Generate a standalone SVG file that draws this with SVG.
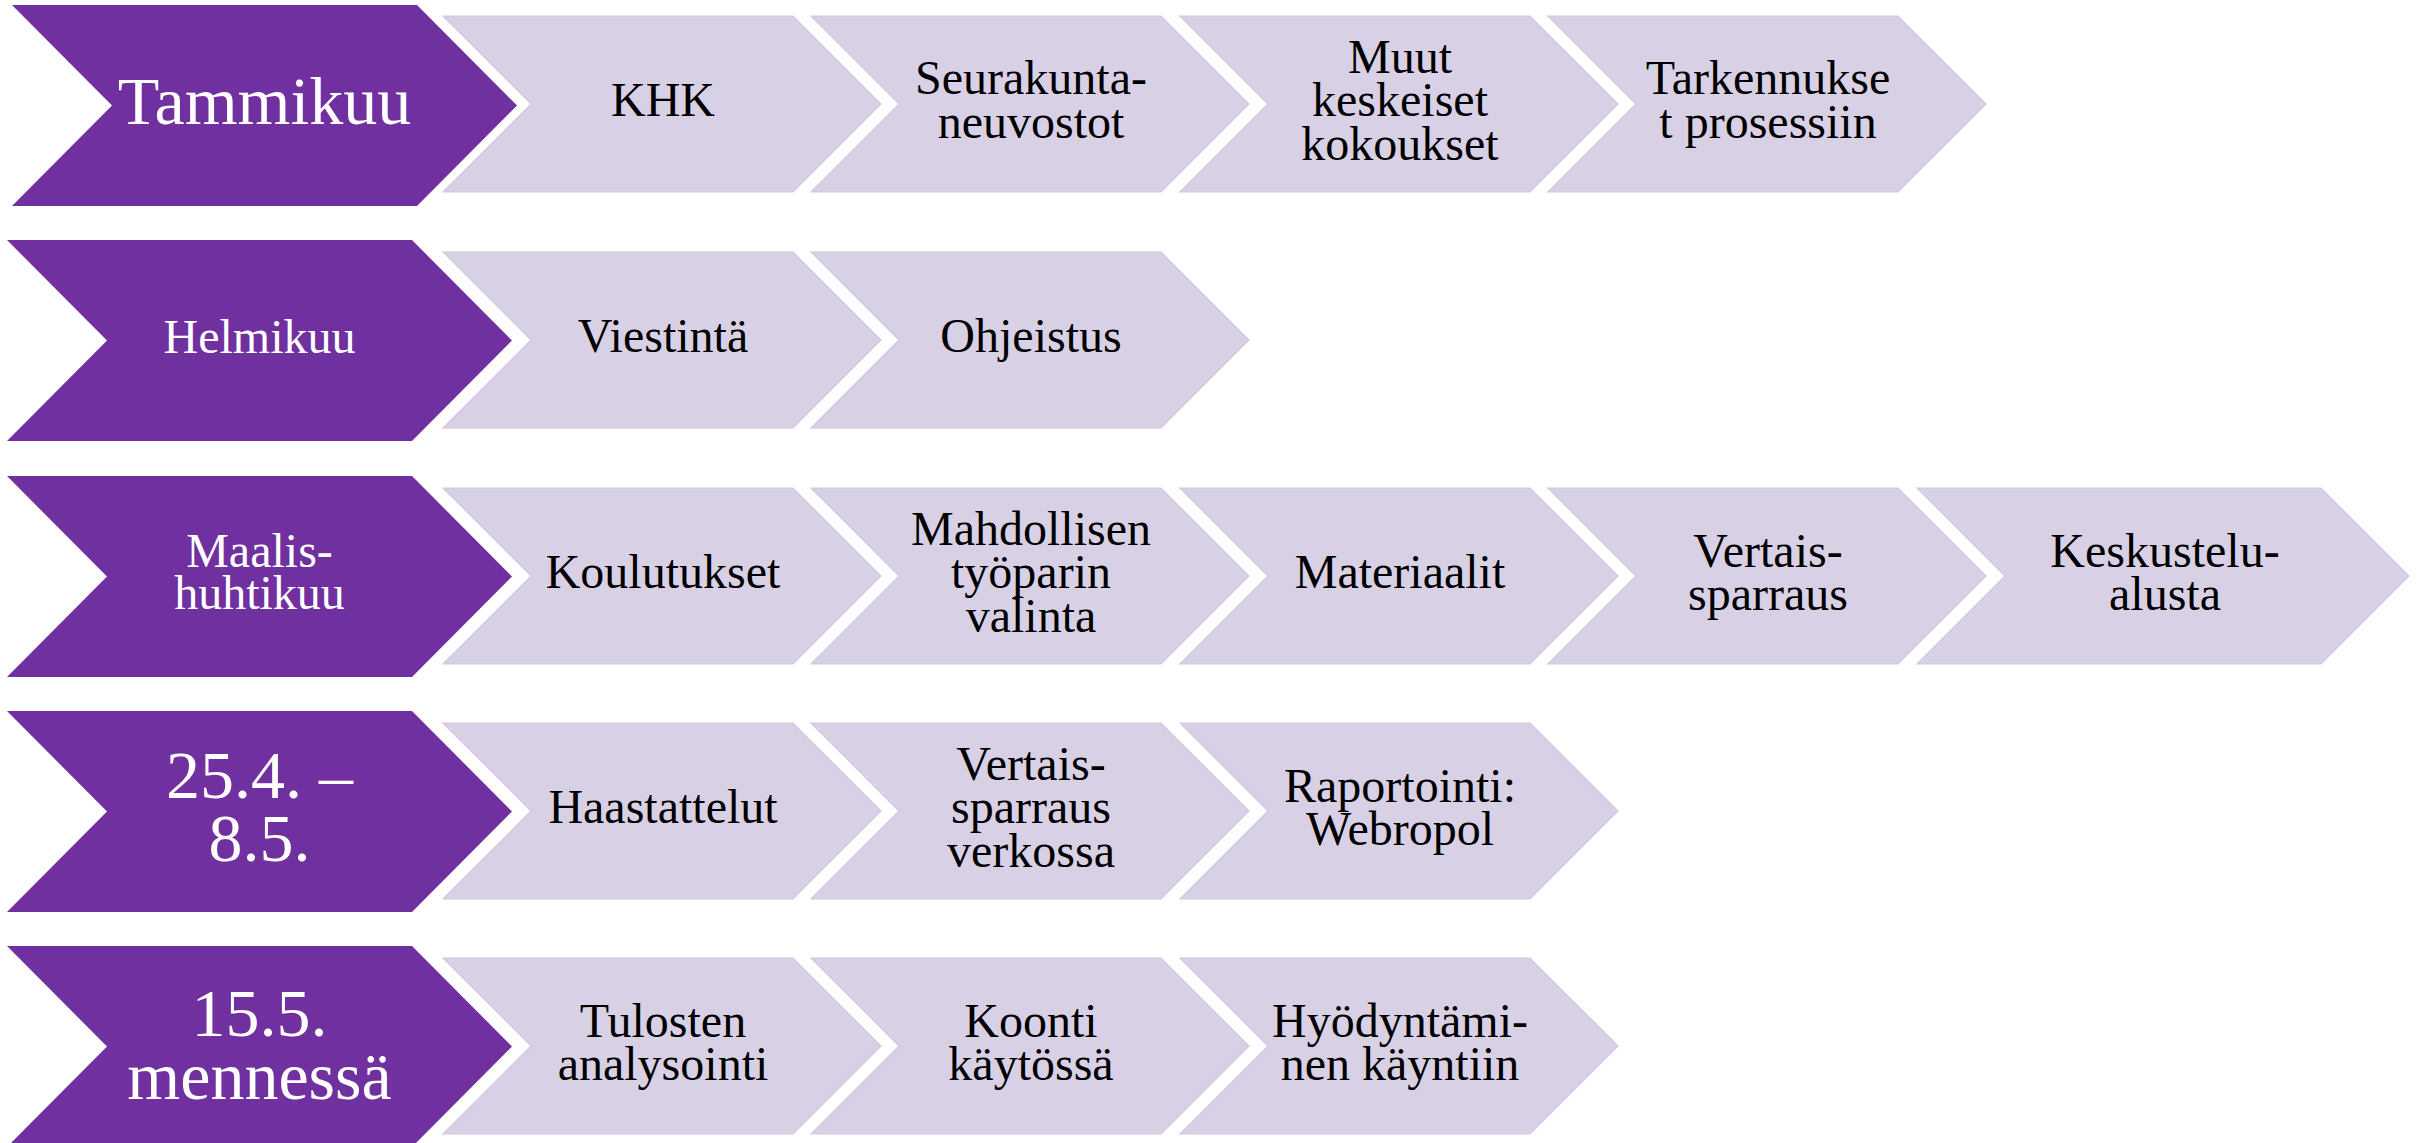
<svg xmlns="http://www.w3.org/2000/svg" width="2418" height="1143" viewBox="0 0 2418 1143">
<style>
.p{fill:#7030A0}
.l{fill:#D8D1E5;stroke:#D0C8E0;stroke-width:1.2}
text{font-family:"Liberation Serif","Times New Roman",serif;text-anchor:middle}
.w{fill:#fff}
.k{fill:#000;font-size:48px}
.big{font-size:68px}
.sm{font-size:48px}
</style>
<rect width="2418" height="1143" fill="#fff"/>
<g id="connectors"/>
<!-- Row 1 -->
<g id="tammikuu"><polygon class="p" points="12,5 417,5 517,105.5 417,206 12,206 112,105.5"/><text class="w big" x="264.5" y="123.5">Tammikuu</text></g>
<g id="khk"><polygon class="l" points="443,16 793,16 881,104 793,192 443,192 531,104"/><text class="k" x="663" y="116">KHK</text></g>
<g id="seurakuntaneuvostot"><polygon class="l" points="811,16 1161,16 1249,104 1161,192 811,192 899,104"/><text class="k"><tspan x="1031" y="94">Seurakunta-</tspan><tspan x="1031" y="138">neuvostot</tspan></text></g>
<g id="muut-kokoukset"><polygon class="l" points="1180,16 1530,16 1618,104 1530,192 1180,192 1268,104"/><text class="k"><tspan x="1400" y="72.5">Muut</tspan><tspan x="1400" y="116">keskeiset</tspan><tspan x="1400" y="159.5">kokoukset</tspan></text></g>
<g id="tarkennukset"><polygon class="l" points="1548,16 1898,16 1986,104 1898,192 1548,192 1636,104"/><text class="k"><tspan x="1768" y="94">Tarkennukse</tspan><tspan x="1768" y="138">t prosessiin</tspan></text></g>
<!-- Row 2 -->
<g id="helmikuu"><polygon class="p" points="7,240 412,240 512,340.5 412,441 7,441 107,340.5"/><text class="w sm" x="259.5" y="352.5">Helmikuu</text></g>
<g id="viestinta"><polygon class="l" points="443,252 793,252 881,340 793,428 443,428 531,340"/><text class="k" x="663" y="352">Viestintä</text></g>
<g id="ohjeistus"><polygon class="l" points="811,252 1161,252 1249,340 1161,428 811,428 899,340"/><text class="k" x="1031" y="352">Ohjeistus</text></g>
<!-- Row 3 -->
<g id="maalis-huhtikuu"><polygon class="p" points="7,476 412,476 512,576.5 412,677 7,677 107,576.5"/><text class="w sm"><tspan x="259.5" y="566.5">Maalis-</tspan><tspan x="259.5" y="609">huhtikuu</tspan></text></g>
<g id="koulutukset"><polygon class="l" points="443,488 793,488 881,576 793,664 443,664 531,576"/><text class="k" x="663" y="588">Koulutukset</text></g>
<g id="tyoparin-valinta"><polygon class="l" points="811,488 1161,488 1249,576 1161,664 811,664 899,576"/><text class="k"><tspan x="1031" y="544.5">Mahdollisen</tspan><tspan x="1031" y="588">työparin</tspan><tspan x="1031" y="631.5">valinta</tspan></text></g>
<g id="materiaalit"><polygon class="l" points="1180,488 1530,488 1618,576 1530,664 1180,664 1268,576"/><text class="k" x="1400" y="588">Materiaalit</text></g>
<g id="vertaissparraus"><polygon class="l" points="1548,488 1898,488 1986,576 1898,664 1548,664 1636,576"/><text class="k"><tspan x="1768" y="566.5">Vertais-</tspan><tspan x="1768" y="610">sparraus</tspan></text></g>
<g id="keskustelualusta"><polygon class="l" points="1917,488 2321,488 2409,576 2321,664 1917,664 2005,576"/><text class="k"><tspan x="2165" y="566.5">Keskustelu-</tspan><tspan x="2165" y="610">alusta</tspan></text></g>
<!-- Row 4 -->
<g id="huhti-toukokuu"><polygon class="p" points="7,711 412,711 512,811.5 412,912 7,912 107,811.5"/><text class="w big"><tspan x="259.5" y="798">25.4. –</tspan><tspan x="259.5" y="861">8.5.</tspan></text></g>
<g id="haastattelut"><polygon class="l" points="443,723 793,723 881,811 793,899 443,899 531,811"/><text class="k" x="663" y="823">Haastattelut</text></g>
<g id="vertaissparraus-verkossa"><polygon class="l" points="811,723 1161,723 1249,811 1161,899 811,899 899,811"/><text class="k"><tspan x="1031" y="779.5">Vertais-</tspan><tspan x="1031" y="823">sparraus</tspan><tspan x="1031" y="866.5">verkossa</tspan></text></g>
<g id="raportointi"><polygon class="l" points="1180,723 1530,723 1618,811 1530,899 1180,899 1268,811"/><text class="k"><tspan x="1400" y="801.5">Raportointi:</tspan><tspan x="1400" y="845">Webropol</tspan></text></g>
<!-- Row 5 -->
<g id="mennessa"><polygon class="p" points="7,946 412,946 512,1046.5 412,1147 7,1147 107,1046.5"/><text class="w big"><tspan x="259.5" y="1036">15.5.</tspan><tspan x="259.5" y="1099">mennessä</tspan></text></g>
<g id="tulosten-analysointi"><polygon class="l" points="443,958 793,958 881,1046 793,1134 443,1134 531,1046"/><text class="k"><tspan x="663" y="1036.5">Tulosten</tspan><tspan x="663" y="1080">analysointi</tspan></text></g>
<g id="koonti"><polygon class="l" points="811,958 1161,958 1249,1046 1161,1134 811,1134 899,1046"/><text class="k"><tspan x="1031" y="1036.5">Koonti</tspan><tspan x="1031" y="1080">käytössä</tspan></text></g>
<g id="hyodyntaminen"><polygon class="l" points="1180,958 1530,958 1618,1046 1530,1134 1180,1134 1268,1046"/><text class="k"><tspan x="1400" y="1036.5">Hyödyntämi-</tspan><tspan x="1400" y="1080">nen käyntiin</tspan></text></g>
</svg>
